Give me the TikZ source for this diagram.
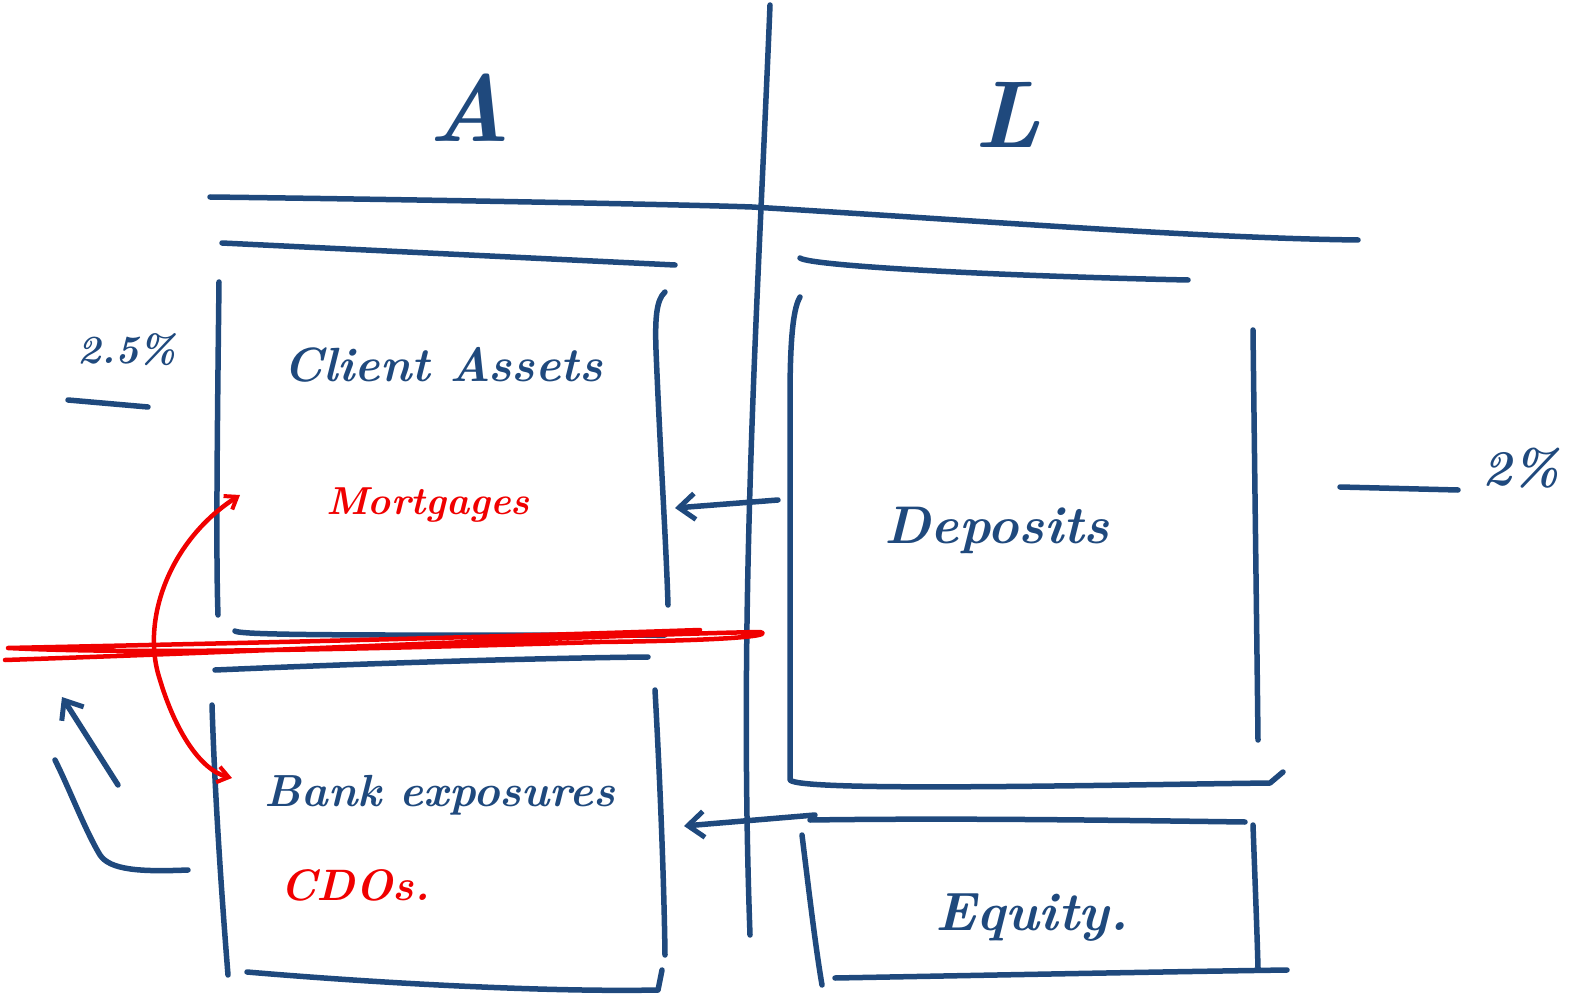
\documentclass[tikz,border=0pt]{standalone}
\usepackage{fontspec}
\usetikzlibrary{arrows.meta}
\definecolor{ink}{RGB}{31,73,125}
\definecolor{rink}{RGB}{240,0,0}
\tikzset{
  pen/.style={draw=ink, line width=5.5pt, line cap=round, line join=round},
  rpen/.style={draw=rink, line width=4.5pt, line cap=round, line join=round},
  hand/.style={text=ink, inner sep=0pt},
  rhand/.style={text=rink, inner sep=0pt},
  tip/.style={-{Straight Barb[length=16pt,width=26pt,line width=5pt]}},
  rtip/.style={{Straight Barb[length=11pt,width=16pt,line width=4pt]}-{Straight Barb[length=11pt,width=16pt,line width=4pt]}}
}
\newcommand{\hf}[1]{\fontsize{#1}{#1}\selectfont\bfseries\itshape}
\begin{document}
\begin{tikzpicture}[x=1pt,y=-1pt]
\useasboundingbox (0,0) rectangle (1575,1008);
% T account
\draw[pen] (770,5) .. controls (758,300) and (738,600) .. (750,935);
\draw[pen] (210,197) .. controls (450,200) and (700,205) .. (752,207) .. controls (1000,222) and (1200,238) .. (1358,240);
\node[hand, font=\hf{95}] (A) at (470,108) {A};
\node[hand, font=\hf{95}] (L) at (1008,115) {L};
% Client assets box
\draw[pen] (222,243) -- (675,265);
\draw[pen] (219,282) .. controls (217,450) and (216,560) .. (218,615);
\draw[pen] (665,292) .. controls (656,300) and (655,320) .. (656,350) .. controls (660,450) and (666,540) .. (668,605);
\draw[pen] (235,631) .. controls (240,636) and (400,635) .. (665,635);
\coordinate (caR) at (675,508);
% Bank exposures box
\draw[pen] (215,670) .. controls (400,662) and (550,658) .. (648,657);
\draw[pen] (212,705) .. controls (215,800) and (222,900) .. (228,975);
\draw[pen] (655,690) .. controls (660,780) and (664,880) .. (665,955);
\draw[pen] (247,972) .. controls (400,985) and (560,992) .. (658,990) -- (662,970);
\coordinate (beR) at (684,826);
% Deposits box
\draw[pen] (800,258) .. controls (810,266) and (1000,276) .. (1188,280);
\draw[pen] (800,297) .. controls (792,310) and (790,350) .. (790,400) .. controls (790,600) and (790,720) .. (790,780) .. controls (800,792) and (1100,785) .. (1270,783) -- (1283,772);
\draw[pen] (1253,330) .. controls (1255,500) and (1257,650) .. (1258,740);
\coordinate (dpL) at (778,500);
% Equity box
\draw[pen] (810,820) .. controls (950,818) and (1100,820) .. (1245,822);
\draw[pen] (802,835) .. controls (810,900) and (816,950) .. (822,985);
\draw[pen] (1253,825) .. controls (1255,880) and (1257,930) .. (1258,968);
\draw[pen] (835,978) .. controls (1000,975) and (1150,972) .. (1287,970);
\coordinate (eqL) at (815,815);
% arrows from liabilities to assets
\draw[pen, tip] (dpL) -- (caR);
\draw[pen, tip] (eqL) -- (beR);
% texts
\node[hand, font=\hf{48}] (ca) at (443,365) {Client Assets};
\node[rhand, font=\hf{39}] (mo) at (428,505) {Mortgages};
\node[hand, font=\hf{45}] (be) at (440,795) {Bank exposures};
\node[rhand, font=\hf{44}] (cdo) at (355,885) {CDOs.};
\node[hand, font=\hf{53}] (dp) at (997,530) {Deposits};
\node[hand, font=\hf{54}] (eq) at (1032,918) {Equity.};
\node[hand, font=\hf{40}] (p25) at (127,350) {2.5\%};
\node[hand, font=\hf{50}] (p2) at (1521,468) {2\%};
\coordinate (u1a) at (68,400); \coordinate (u1b) at (148,407);
\draw[pen] (u1a) -- (u1b);
\coordinate (u2a) at (1340,487); \coordinate (u2b) at (1458,490);
\draw[pen] (u2a) -- (u2b);
% red separator stroke
\draw[rpen] (5,660) .. controls (300,650) and (600,635) .. (760,632) .. controls (770,634) and (760,640) .. (600,642) .. controls (400,648) and (150,655) .. (8,648) .. controls (150,645) and (400,640) .. (700,630);
% red double arrow
\coordinate (r1) at (240,495);
\coordinate (r2) at (232,778);
\draw[rpen, rtip] (r1) .. controls (170,540) and (140,620) .. (160,680) .. controls (175,730) and (200,770) .. (r2);
% blue arrow lower left
\coordinate (b1) at (188,870);
\coordinate (b2) at (55,760);
\draw[pen] (b1) .. controls (140,872) and (110,870) .. (100,855) .. controls (85,830) and (70,790) .. (b2);
\coordinate (b3) at (118,785);
\coordinate (b4) at (62,697);
\draw[pen, tip] (b3) -- (b4);
\end{tikzpicture}
\end{document}
